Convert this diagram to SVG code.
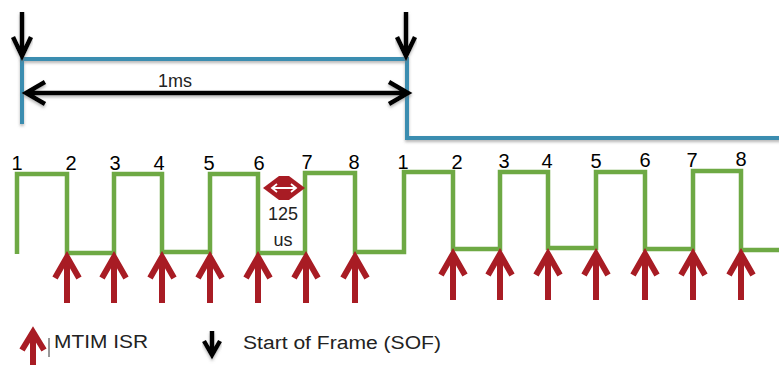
<svg xmlns="http://www.w3.org/2000/svg" xmlns:xlink="http://www.w3.org/1999/xlink" width="779" height="365" viewBox="0 0 779 365">
<style>
.blue{fill:none;stroke:#3a8db0;stroke-width:4;filter:url(#sh)}
.blk{fill:none;stroke:#000;stroke-width:4.5;stroke-linejoin:miter;filter:url(#sh)}
.grn{fill:none;stroke:#6ea944;stroke-width:4.5;stroke-linejoin:miter}
.red{fill:none;stroke:#a81c24;stroke-width:6;stroke-linejoin:miter}
.num{font-family:"Liberation Sans",Arial,sans-serif;font-size:20px;fill:#000;text-anchor:middle}
.lbl{font-family:"Liberation Sans",Arial,sans-serif;font-size:18px;fill:#222}
</style>
<defs>
<filter id="sh" x="-10%" y="-50%" width="120%" height="200%">
<feDropShadow dx="0" dy="2" stdDeviation="1.5" flood-color="#777" flood-opacity="0.55"/>
</filter>
<path id="isr" class="red" d="M0,48 V4 M-12,23 L0,2 L12,23"/>
</defs>
<rect width="779" height="365" fill="#fff"/>
<g id="frame-signal">
<path class="blue" d="M22,124 V59 H407 V138 H781"/>
</g>
<g id="connectors">
<path class="blk" d="M22,12 V55 M13,37 L22,56 L31,37"/>
<path class="blk" d="M406,12 V55 M397,37 L406,56 L415,37"/>
<path class="blk" d="M27,93 H407 M45,82 L26,93 L45,104 M389,82 L408,93 L389,104"/>
</g>
<g id="label-1ms"><text class="lbl" x="175" y="87" text-anchor="middle" font-size="19">1ms</text></g>
<g id="waveform">
<path class="grn" d="M17,254 V174 H67 V253 H114 V174 H162 V252 H210 V174 H258 V253 H305 V173 H355 V252 H404 V172 H453 V249 H500 V172 H548 V248 H596 V172 H645 V249 H693 V171 H741 V250 H781"/>
</g>
<g id="slot-numbers">
<text class="num" x="17" y="170">1</text>
<text class="num" x="71" y="170">2</text>
<text class="num" x="115" y="170">3</text>
<text class="num" x="159" y="170">4</text>
<text class="num" x="209" y="170">5</text>
<text class="num" x="259" y="170">6</text>
<text class="num" x="307" y="169">7</text>
<text class="num" x="354" y="169">8</text>
<text class="num" x="403" y="169">1</text>
<text class="num" x="457" y="169">2</text>
<text class="num" x="504" y="168">3</text>
<text class="num" x="547" y="168">4</text>
<text class="num" x="596" y="168">5</text>
<text class="num" x="645" y="167">6</text>
<text class="num" x="692" y="167">7</text>
<text class="num" x="741" y="166">8</text>
</g>
<g id="interval-125us">
<polygon points="263,188 279,176 289,176 305,188 289,200 279,200" fill="#a81c24"/>
<path d="M272,188 H296 M277,184 L272,188 L277,192 M291,184 L296,188 L291,192" fill="none" stroke="#fff" stroke-width="1.8"/>
<text class="lbl" x="283" y="220" text-anchor="middle" font-size="17">125</text>
<text class="lbl" x="283" y="246" text-anchor="middle" font-size="17">us</text>
</g>
<g id="isr-arrows">
<use xlink:href="#isr" x="67" y="255"/>
<use xlink:href="#isr" x="114" y="255"/>
<use xlink:href="#isr" x="162" y="255"/>
<use xlink:href="#isr" x="210" y="255"/>
<use xlink:href="#isr" x="258" y="255"/>
<use xlink:href="#isr" x="306" y="255"/>
<use xlink:href="#isr" x="355" y="255"/>
<use xlink:href="#isr" x="453" y="252"/>
<use xlink:href="#isr" x="500" y="252"/>
<use xlink:href="#isr" x="548" y="252"/>
<use xlink:href="#isr" x="596" y="252"/>
<use xlink:href="#isr" x="645" y="252"/>
<use xlink:href="#isr" x="693" y="252"/>
<use xlink:href="#isr" x="741" y="252"/>
</g>
<g id="legend-isr">
<path class="red" d="M33,365 V335 M22,350 L33,332 L44,350"/>
<line x1="49" y1="338" x2="49" y2="357" stroke="#333" stroke-width="1"/>
<text class="lbl" x="54" y="348" font-size="19" textLength="94" lengthAdjust="spacingAndGlyphs">MTIM ISR</text>
</g>
<g id="legend-sof">
<path class="blk" d="M212,331 V353 M204,341 L212,355 L220,341"/>
<text class="lbl" x="243" y="349" font-size="19" textLength="198" lengthAdjust="spacingAndGlyphs">Start of Frame (SOF)</text>
</g>
</svg>
